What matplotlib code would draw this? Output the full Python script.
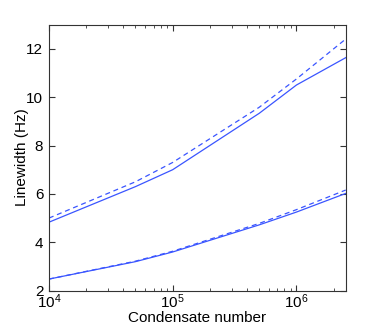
import matplotlib
matplotlib.use("Agg")
import matplotlib.pyplot as plt
import numpy as np

N = [1e4, 5e4, 1e5, 5e5, 1e6, 2.5e6]
upper_solid = [4.83, 6.3, 7.0, 9.33, 10.5, 11.63]
upper_dashed = [5.0, 6.5, 7.3, 9.58, 10.75, 12.4]
lower_solid = [2.48, 3.2, 3.6, 4.72, 5.25, 6.02]
lower_dashed = [2.48, 3.22, 3.63, 4.78, 5.35, 6.16]

yticks = [2, 4, 6, 8, 10, 12]

plt.rcParams['font.family'] = ['Liberation Sans', 'DejaVu Sans']

fig = plt.figure(figsize=(3.82, 3.27), dpi=100)
ax = fig.add_axes([0.128, 0.111, 0.777, 0.814])
c = '#3a55ff'
ax.plot(N, upper_solid, '-', color=c, lw=0.9)
ax.plot(N, upper_dashed, '--', color=c, lw=0.9, dashes=(4, 3))
ax.plot(N, lower_solid, '-', color=c, lw=0.9)
ax.plot(N, lower_dashed, '--', color=c, lw=0.9, dashes=(4, 3))

ax.set_xscale('log')
ax.set_xlim(1e4, 2.5e6)
ax.set_ylim(2, 13)
ax.set_yticks(yticks)
ax.tick_params(which='both', direction='in', top=True, right=True, labelsize=11, color='#333333')
ax.tick_params(axis='y', pad=4)
ax.tick_params(axis='x', pad=1)
ax.tick_params(which='major', length=4)
ax.tick_params(which='minor', length=2)
for s in ax.spines.values():
    s.set_color('#333333')
    s.set_linewidth(0.8)
ax.set_xlabel('Condensate number', fontsize=11)
ax.set_ylabel('Linewidth (Hz)', fontsize=11)
ax.xaxis.set_label_coords(0.5, -0.078)
ax.yaxis.set_label_coords(-0.066, 0.5)
fig.savefig('out.png', dpi=100)
